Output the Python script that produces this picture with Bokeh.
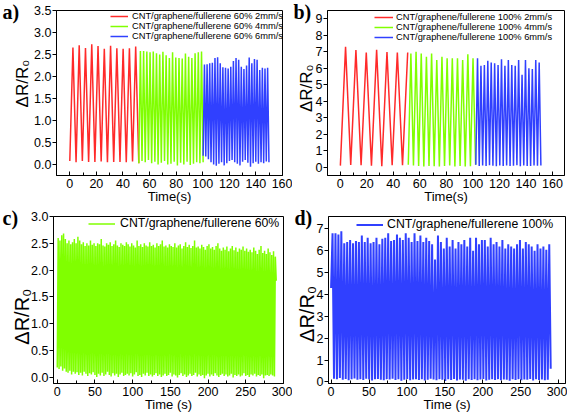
import numpy as np
from bokeh.plotting import figure
from bokeh.layouts import row, column
from bokeh.models import FixedTicker, Range1d, PrintfTickFormatter
from bokeh.embed import file_html
from bokeh.resources import INLINE

RED, GREEN, BLUE = "#FF2A2A", "#80FF00", "#3040FF"

# ---------------- data (turning points of the cyclic ΔR/R0 signal) ----------------
# panel a : 60 % strain
a_labels = ["CNT/graphene/fullerene 60% 2mm/s", "CNT/graphene/fullerene 60% 4mm/s",
            "CNT/graphene/fullerene 60% 6mm/s"]
a_red_start, a_red_half = 0.0, 2.36
a_red_low = [0.08, 0.05, 0.08, 0.06, 0.06, 0.07, 0.05, 0.06, 0.06, 0.05, 0.07, 0.03]
a_red_high = [2.66, 2.71, 2.65, 2.73, 2.69, 2.63, 2.70, 2.64, 2.63, 2.64, 2.68]
a_grn_start, a_grn_half = 51.9, 1.21
a_grn_low = [0.03, 0.08, 0.05, 0.10, 0.03, 0.06, 0.00, 0.04, 0.08, 0.00, 0.02, 0.06, -0.02,
             0.04, 0.00, 0.06, -0.01, 0.02, 0.05, 0.03, 0.05]
a_grn_high = [2.58, 2.58, 2.57, 2.55, 2.57, 2.53, 2.50, 2.56, 2.48, 2.42, 2.55, 2.43, 2.42,
              2.41, 2.52, 2.45, 2.42, 2.53, 2.55, 2.57]
a_blu_start, a_blu_half = 100.3, 0.99
a_blu_low = [0.20, 0.18, 0.12, 0.05, 0.00, -0.03, 0.02, 0.05, -0.02, 0.03, 0.08, 0.10, 0.05,
             0.02, -0.02, 0.06, 0.10, 0.04, -0.05, 0.03, 0.06, 0.02, 0.05, 0.03, 0.07, 0.05]
a_blu_high = [2.27, 2.28, 2.30, 2.31, 2.42, 2.44, 2.30, 2.21, 2.20, 2.18, 2.22, 2.35, 2.42,
              2.38, 2.22, 2.17, 2.25, 2.43, 2.30, 2.40, 2.38, 2.15, 2.20, 2.18, 2.20]

# panel b : 100 % strain
b_labels = ["CNT/graphene/fullerene 100% 2mm/s", "CNT/graphene/fullerene 100% 4mm/s",
            "CNT/graphene/fullerene 100% 6mm/s"]
b_red_start, b_red_half = 0.2, 3.9
b_red_low = [0.10, 0.14, 0.12, 0.10, 0.06, 0.12, 0.12]
b_red_high = [7.30, 7.10, 6.95, 7.12, 6.98, 6.95, 6.96]
b_grn_start, b_grn_half = 51.35, 1.95
b_grn_low = [0.15, 0.10, 0.08, 0.05, 0.08, 0.06, 0.05, 0.07, 0.10, 0.04, 0.08, 0.05, 0.06, 0.15]
b_grn_high = [6.90, 7.00, 6.90, 6.70, 6.90, 6.50, 6.70, 6.60, 6.60, 6.60, 6.50, 6.85, 6.60]
b_blu_start, b_blu_half = 102.2, 1.29
b_blu_low = [0.15, 0.08, 0.10, 0.07, 0.12, 0.09, 0.06, 0.10, 0.08, 0.11, 0.07, 0.09, 0.12,
             0.06, 0.10, 0.08, 0.07, 0.11, 0.09, 0.10]
b_blu_high = [6.60, 6.15, 6.20, 6.45, 6.35, 6.30, 6.20, 6.55, 6.15, 6.50, 6.20, 6.15, 6.50,
              5.60, 6.50, 6.00, 5.95, 6.50, 6.35]

# panel c : 60 % strain, long run
c_label = "CNT/graphene/fullerene 60%"
c_start, c_half = 0.0, 1.19
c_high = [2.60, 2.55, 2.65, 2.68, 2.58,
          2.50, 2.55, 2.48, 2.52, 2.58, 2.50, 2.62, 2.55,
          2.48, 2.52, 2.45, 2.50, 2.46, 2.55, 2.47, 2.50,
          2.45, 2.50, 2.48, 2.58, 2.46, 2.44, 2.50, 2.47, 2.52, 2.45, 2.48, 2.55, 2.46, 2.43,
          2.50, 2.47, 2.45, 2.52, 2.48, 2.44, 2.50,
          2.46, 2.42, 2.55, 2.45, 2.48, 2.43, 2.50, 2.46, 2.44, 2.52, 2.45, 2.47, 2.42, 2.50,
          2.45, 2.48, 2.55, 2.44, 2.46, 2.42, 2.48,
          2.45, 2.43, 2.50, 2.42, 2.46, 2.48, 2.40, 2.45, 2.52, 2.43, 2.47, 2.41, 2.45, 2.55,
          2.42, 2.44, 2.40, 2.47, 2.43, 2.38, 2.45,
          2.48, 2.40, 2.43, 2.38, 2.45, 2.50, 2.40, 2.36, 2.42, 2.38, 2.44, 2.35, 2.40, 2.45,
          2.37, 2.42, 2.34, 2.40, 2.38, 2.44, 2.36,
          2.40, 2.34, 2.38, 2.33, 2.42, 2.36, 2.30, 2.38, 2.45, 2.32, 2.36, 2.30, 2.40, 2.33,
          2.28, 2.35, 2.25]
c_low = [0.18, 0.15, 0.20, 0.12, 0.16, 0.10, 0.08, 0.12, 0.05, 0.10, 0.06, 0.09, 0.04, 0.08,
         0.03, 0.10, 0.06, 0.02, 0.07, 0.05,
         0.09, 0.04, 0.00, 0.06, 0.03, 0.08, 0.02, 0.05, 0.10, 0.04, 0.01, 0.07, 0.03, 0.06,
         0.00, 0.05, 0.08, 0.02, 0.04, 0.06,
         0.03, 0.07, 0.01, 0.05, 0.09, 0.02, 0.04, 0.00, 0.06, 0.03, 0.08, 0.02, 0.05, 0.01,
         0.04, 0.07, 0.02, 0.05, 0.00, 0.03,
         0.06, 0.02, 0.04, 0.08, 0.01, 0.05, 0.03, -0.01, 0.04, 0.07, 0.02, 0.05, 0.00, 0.03,
         0.06, 0.02, 0.04, 0.08, 0.01, 0.05,
         0.02, 0.04, -0.02, 0.03, 0.06, 0.01, 0.05, 0.02, 0.07, 0.03, 0.00, 0.04, 0.06, 0.02,
         0.05, 0.01, 0.03, 0.06, -0.01, 0.04,
         0.02, 0.05, 0.01, 0.03, 0.07, 0.02, 0.04, 0.00, 0.05, 0.03, 0.06, 0.01, 0.04, 0.02,
         0.05, -0.02, 0.03, 0.04, 0.02, 0.05,
         0.03, 0.01, 1.80]

# panel d : 100 % strain, long run
d_label = "CNT/graphene/fullerene 100%"
d_start, d_half = 0.0, 1.93
d_high = [6.80, 6.80, 6.75, 6.90, 6.35, 6.40, 6.50, 6.35, 6.45, 6.40,
          6.70, 6.40, 6.60, 6.35, 6.40, 6.60, 6.30, 6.55, 6.60, 6.80,
          6.45, 6.50, 6.75, 6.60, 6.50, 6.80, 6.60, 6.40, 6.80, 6.45,
          6.70, 6.40, 6.60, 6.45, 6.30, 5.60, 6.70, 6.40, 6.10, 6.60,
          6.20, 6.50, 6.10, 6.40, 6.30, 6.50, 6.20, 6.60, 6.00, 6.60,
          6.30, 6.50, 6.50, 6.20, 6.60, 6.30, 6.40, 6.20, 6.50, 6.10,
          6.30, 6.20, 6.10, 6.30, 6.50, 6.10, 6.40, 6.30, 6.20, 6.00,
          6.30, 6.10, 6.20, 6.05, 6.30]
d_low = [4.30,
         0.15, 0.12, 0.18, 0.10, 0.14, 0.08, 0.12, 0.16, 0.10, 0.13,
         0.09, 0.15, 0.11, 0.07, 0.12, 0.14, 0.10, 0.08, 0.13, 0.11,
         0.15, 0.09, 0.12, 0.06, 0.10, 0.14, 0.08, 0.11, 0.13, 0.09,
         0.12, 0.07, 0.10, 0.15, 0.11, 0.08, 0.13, 0.10, 0.05, 0.12,
         0.09, 0.14, 0.07, 0.11, 0.10, 0.06, 0.13, 0.09, 0.12, 0.08,
         0.11, 0.14, 0.07, 0.10, 0.12, 0.09, 0.13, 0.08, 0.11, 0.10,
         0.06, 0.12, 0.09, 0.13, 0.08, 0.11, 0.10, 0.14, 0.07, 0.12,
         0.09, 0.11, 0.08, 0.10,
         0.60]

x_ticks_short = [0, 20, 40, 60, 80, 100, 120, 140, 160]
x_minor_short = [10, 30, 50, 70, 90, 110, 130, 150]
x_ticks_long = [0, 50, 100, 150, 200, 250, 300]
x_minor_long = [25, 75, 125, 175, 225, 275]
y_ticks_a = [0.0, 0.5, 1.0, 1.5, 2.0, 2.5, 3.0, 3.5]
y_ticks_b = [0, 1, 2, 3, 4, 5, 6, 7, 8, 9]
y_ticks_c = [0.0, 0.5, 1.0, 1.5, 2.0, 2.5, 3.0]
y_ticks_d = [0, 1, 2, 3, 4, 5, 6, 7]
Y_LABEL = "ΔR/R₀"
NB = "\u00a0"   # non-breaking space used to shift the y title off-centre


def series(start, half, lows, highs):
    vals = []
    for i, lo in enumerate(lows):
        vals.append(lo)
        if i < len(highs):
            vals.append(highs[i])
    ts = [start + i * half for i in range(len(vals))]
    return ts, vals


def base(w, h, xr, yr, borders, xt, xm, yt, yfmt, xlabel, ylab_size, ylab_standoff,
         ylab_text, letter, letter_offset):
    left, right, top, bottom = borders
    p = figure(width=w, height=h, x_range=Range1d(*xr), y_range=Range1d(*yr),
               output_backend="svg", toolbar_location=None,
               min_border_left=left, min_border_right=right,
               min_border_top=top, min_border_bottom=bottom)
    p.xgrid.visible = False
    p.ygrid.visible = False
    p.outline_line_color = "black"
    p.outline_line_width = 1
    p.outline_line_alpha = 1
    p.xaxis.ticker = FixedTicker(ticks=xt, minor_ticks=xm)
    p.yaxis.ticker = FixedTicker(ticks=yt, minor_ticks=[])
    p.yaxis.formatter = PrintfTickFormatter(format=yfmt)
    for ax in (p.xaxis[0], p.yaxis[0]):
        ax.axis_line_color = "black"
        ax.major_tick_line_color = "black"
        ax.minor_tick_line_color = "black"
        ax.major_label_text_font = "Liberation Sans"
        ax.major_label_text_font_size = "12.5px"
        ax.major_label_text_color = "black"
        ax.axis_label_text_font = "Liberation Sans"
        ax.axis_label_text_font_style = "normal"
        ax.axis_label_text_color = "black"
    xa = p.xaxis[0]
    xa.axis_label = xlabel
    xa.axis_label_text_font_size = "13px"
    xa.major_tick_in = 4
    xa.major_tick_out = 0
    xa.minor_tick_in = 3
    xa.minor_tick_out = 0
    xa.major_label_standoff = 3
    xa.axis_label_standoff = -2
    ya = p.yaxis[0]
    ya.axis_label = ylab_text
    ya.axis_label_text_font_size = ylab_size
    ya.axis_label_standoff = ylab_standoff
    ya.major_tick_in = 0
    ya.major_tick_out = 4
    ya.minor_tick_in = 0
    ya.minor_tick_out = 0
    ya.major_label_standoff = 1
    # panel letter drawn as the (offset) title, hanging down beside the frame
    p.title.text = letter
    p.title.align = "left"
    p.title.vertical_align = "bottom"
    p.title.offset = letter_offset
    p.title.standoff = -24
    p.title.text_font = "Liberation Serif"
    p.title.text_font_style = "bold"
    p.title.text_font_size = "20px"
    p.title.text_color = "black"
    return p


def style_legend(p, loc, fsize, gw, standoff, row_h):
    lg = p.legend[0]
    lg.location = loc
    lg.border_line_alpha = 0
    lg.background_fill_alpha = 0
    lg.label_text_font = "Liberation Sans"
    lg.label_text_font_size = fsize
    lg.label_text_color = "black"
    lg.glyph_width = gw
    lg.glyph_height = row_h
    lg.label_height = row_h
    lg.label_standoff = standoff
    lg.spacing = 0
    lg.padding = 0
    lg.margin = 0


# ---------------- panel a ----------------
pa = base(292, 206, (-10, 160), (-0.25, 3.5), (56, 10, 10, 30),
          x_ticks_short, x_minor_short, y_ticks_a, "%.1f", "Time(s)", "17px", -1,
          NB * 4 + Y_LABEL, "a)", -54)
for (st, hf, lo, hi), col, lab in zip(
        [(a_red_start, a_red_half, a_red_low, a_red_high),
         (a_grn_start, a_grn_half, a_grn_low, a_grn_high),
         (a_blu_start, a_blu_half, a_blu_low, a_blu_high)],
        [RED, GREEN, BLUE], a_labels):
    t, v = series(st, hf, lo, hi)
    pa.line(t, v, line_color=col, line_width=1.5, legend_label=lab)
style_legend(pa, (54, 134), "9.3px", 18, 4, 10)

# ---------------- panel b ----------------
pb = base(275, 206, (-9.5, 169), (-0.5, 9.5), (35, 3, 10, 31),
          x_ticks_short, x_minor_short, y_ticks_b, "%d", "Time(s)", "17px", -3,
          NB * 2 + Y_LABEL, "b)", -34)
for (st, hf, lo, hi), col, lab in zip(
        [(b_red_start, b_red_half, b_red_low, b_red_high),
         (b_grn_start, b_grn_half, b_grn_low, b_grn_high),
         (b_blu_start, b_blu_half, b_blu_low, b_blu_high)],
        [RED, GREEN, BLUE], b_labels):
    t, v = series(st, hf, lo, hi)
    pb.line(t, v, line_color=col, line_width=1.5, legend_label=lab)
style_legend(pb, (47, 133), "9.3px", 19, 3, 10)

# ---------------- panel c ----------------
pc = base(292, 208, (-5, 300), (-0.12, 3.0), (53, 9, 10, 31),
          x_ticks_long, x_minor_long, y_ticks_c, "%.1f", "Time (s)", "20px", -5,
          Y_LABEL + NB * 6, "c)", -51)
t, v = series(c_start, c_half, c_low, c_high)
pc.line(t, v, line_color=GREEN, line_width=1.5, legend_label=c_label)
style_legend(pc, (35, 153), "12.3px", 27, 5, 13)

# ---------------- panel d ----------------
pd_ = base(275, 208, (-3.4, 309), (-0.07, 7.57), (35, 2, 10, 31),
           x_ticks_long, x_minor_long, y_ticks_d, "%d", "Time (s)", "20px", -4,
           Y_LABEL + NB * 5, "d)", -34)
t, v = series(d_start, d_half, d_low, d_high)
pd_.line(t, v, line_color=BLUE, line_width=2.0, legend_label=d_label)
style_legend(pd_, (28, 152), "12.3px", 27, 4, 13)

layout = column(row(pa, pb), row(pc, pd_))
open("out.html", "w").write(file_html(layout, INLINE))
